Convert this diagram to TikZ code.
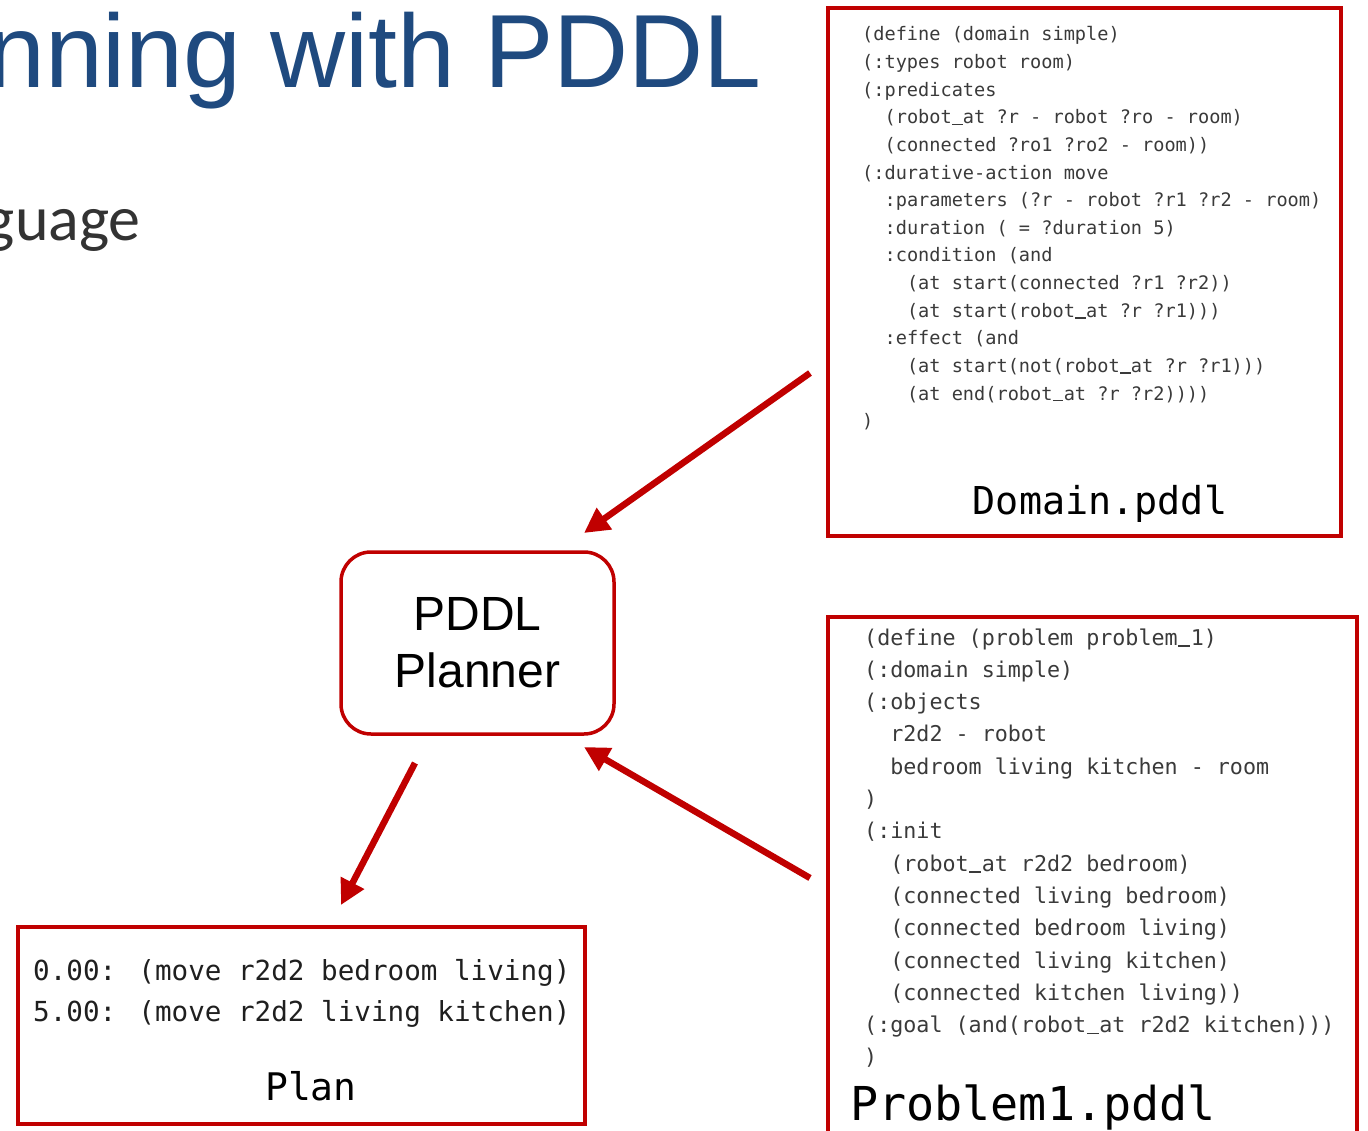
\documentclass[tikz,border=0pt]{standalone}
\usepackage{fontspec}
\usetikzlibrary{arrows.meta}
\newfontfamily\codefont{DejaVu Sans Mono}
\newfontfamily\headfont{Liberation Sans}
\newfontfamily\bodyfont{Carlito}
\definecolor{pddlred}{HTML}{C00000}
\definecolor{titleblue}{HTML}{1F4A7F}
\definecolor{codegray}{HTML}{3A3A3A}
\definecolor{bodygray}{HTML}{333333}
% a heavier underscore that keeps the monospace advance
\newcommand{\usc}{\makebox[0.602em][c]{\rule[-0.07em]{0.56em}{0.075em}}}

\begin{document}
\begin{tikzpicture}[x=1pt,y=-1pt,
  framebox/.style={draw=pddlred, line width=3.5pt, inner sep=0pt},
  flow/.style={draw=pddlred, line width=6.5pt, -{Triangle[length=25pt,width=25pt]}},
  codeline/.style={anchor=base west, inner sep=0pt, text=codegray}]
\useasboundingbox (0,0) rectangle (1368,1131);
\clip (0,0) rectangle (1368,1131);

% slide heading (runs off the left edge)
\node[anchor=base east, inner sep=0pt, text=titleblue, font=\headfont\fontsize{104}{110}\selectfont]
  (title) at (762,88) {nning with PDDL};
\node[anchor=base east, inner sep=0pt, text=bodygray, font=\bodyfont\fontsize{64}{70}\selectfont]
  (subtitle) at (141,241) {guage};

% boxes
\draw[framebox] (828,8) rectangle (1341,536);
\node[inner sep=0pt, minimum width=513pt, minimum height=528pt] (dom) at (1084.5,272) {};
\draw[framebox] (828,617) rectangle (1357,1150);
\node[inner sep=0pt, minimum width=529pt, minimum height=533pt] (prob) at (1092.5,883.5) {};
\draw[framebox] (18,927) rectangle (585,1124);
\node[inner sep=0pt, minimum width=567pt, minimum height=197pt] (plan) at (301.5,1025.5) {};

\node[framebox, rounded corners=30pt, minimum width=273pt, minimum height=182pt,
  align=center, font=\headfont\fontsize{48}{57}\selectfont]
  (planner) at (477.5,643) {PDDL\\Planner};

% domain file
\begin{scope}[font=\codefont\fontsize{18.6}{27.6}\selectfont]
\foreach \ind/\txt [count=\i from 0] in {
  0/{(define (domain simple)},
  0/{(:types robot room)},
  0/{(:predicates},
  1/{(robot\usc at ?r - robot ?ro - room)},
  1/{(connected ?ro1 ?ro2 - room))},
  0/{(:durative-action move},
  1/{:parameters (?r - robot ?r1 ?r2 - room)},
  1/{:duration ( = ?duration 5)},
  1/{:condition (and},
  2/{(at start(connected ?r1 ?r2))},
  2/{(at start(robot\usc at ?r ?r1)))},
  1/{:effect (and},
  2/{(at start(not(robot\usc at ?r ?r1)))},
  2/{(at end(robot\usc at ?r ?r2))))},
  0/{)}}
  \node[codeline] (d\i) at ({862+22.4*\ind},{41+27.62*\i}) {\txt};
\end{scope}
\node[anchor=base, inner sep=0pt, font=\codefont\fontsize{38.4}{40}\selectfont]
  (domcap) at (1100,514) {Domain.pddl};

% problem file
\begin{scope}[font=\codefont\fontsize{21.7}{32}\selectfont]
\foreach \ind/\txt [count=\i from 0] in {
  0/{(define (problem problem\usc 1)},
  0/{(:domain simple)},
  0/{(:objects},
  1/{r2d2 - robot},
  1/{bedroom living kitchen - room},
  0/{)},
  0/{(:init},
  1/{(robot\usc at r2d2 bedroom)},
  1/{(connected living bedroom)},
  1/{(connected bedroom living)},
  1/{(connected living kitchen)},
  1/{(connected kitchen living))},
  0/{(:goal (and(robot\usc at r2d2 kitchen)))},
  0/{)}}
  \node[codeline] (p\i) at ({864+26.1*\ind},{645+32.3*\i}) {\txt};
\end{scope}
\node[anchor=base west, inner sep=0pt, font=\codefont\fontsize{46.7}{50}\selectfont]
  (probcap) at (850,1120) {Problem1.pddl};

% resulting plan
\begin{scope}[font=\codefont\fontsize{27.6}{41}\selectfont]
\node[codeline, text=black!88] (s0) at (33,980) {0.00: (move r2d2 bedroom living)};
\node[codeline, text=black!88] (s1) at (33,1021) {5.00: (move r2d2 living kitchen)};
\end{scope}
\node[anchor=base, inner sep=0pt, font=\codefont\fontsize{38}{40}\selectfont]
  (plancap) at (311,1100) {Plan};

% data flow
\coordinate (domout) at (810,373);
\coordinate (planin) at (584,533);
\coordinate (probout) at (810,878);
\coordinate (planin2) at (584,747);
\coordinate (planout) at (415,763);
\coordinate (planbox) at (341,905);
\draw[flow] (domout) -- (planin);
\draw[flow] (probout) -- (planin2);
\draw[flow] (planout) -- (planbox);
\end{tikzpicture}
\end{document}
